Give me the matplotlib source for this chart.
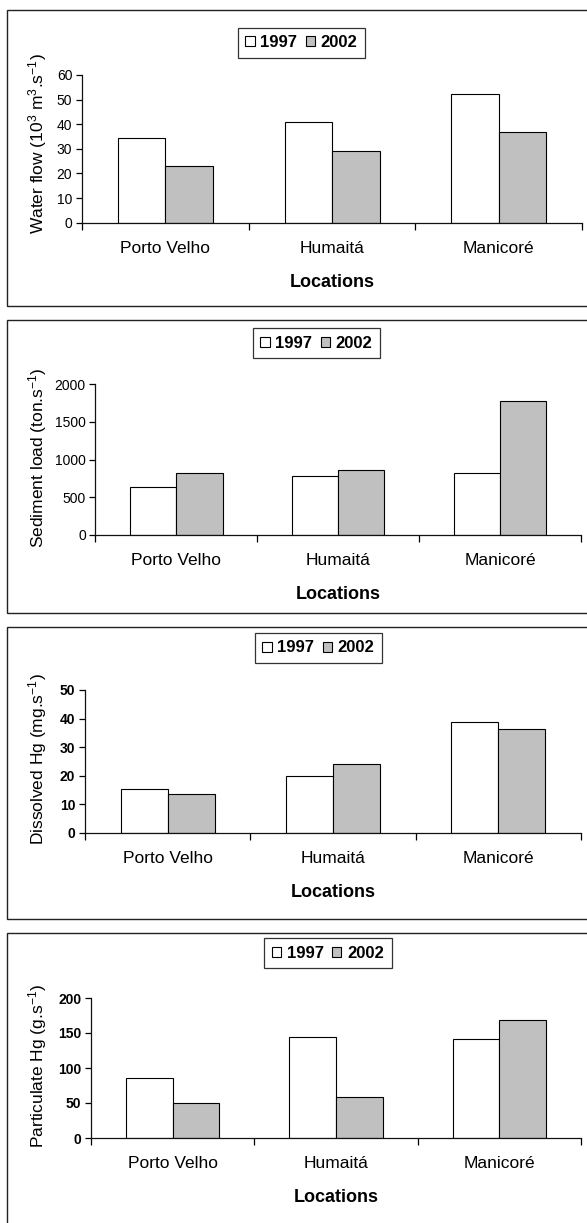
import numpy as np
import matplotlib
matplotlib.use("Agg")
import matplotlib.pyplot as plt
from matplotlib.patches import Rectangle, Patch

plt.rcParams['font.family'] = ['Liberation Sans', 'DejaVu Sans']
plt.rcParams['mathtext.fontset'] = 'custom'
plt.rcParams['mathtext.rm'] = 'Liberation Sans'
plt.rcParams['mathtext.it'] = 'Liberation Sans:italic'
plt.rcParams['mathtext.bf'] = 'Liberation Sans:bold'

# ---------------- data ----------------
locations = ['Porto Velho', 'Humaitá', 'Manicoré']
years = ['1997', '2002']

water_1997 = [34.3, 41.0, 52.1]
water_2002 = [23.1, 29.3, 37.0]

sediment_1997 = [630, 775, 815]
sediment_2002 = [815, 863, 1780]

dissolved_1997 = [15.5, 20.0, 38.9]
dissolved_2002 = [13.6, 24.3, 36.5]

particulate_1997 = [86.3, 144.5, 141.2]
particulate_2002 = [50.7, 58.8, 168.2]

ylabels = [r'Water flow (10$^{3}$ m$^{3}$.s$^{-1}$)',
           r'Sediment load (ton.s$^{-1}$)',
           r'Dissolved Hg (mg.s$^{-1}$)',
           r'Particulate Hg (g.s$^{-1}$)']
yticks_list = [[0, 10, 20, 30, 40, 50, 60],
               [0, 500, 1000, 1500, 2000],
               [0, 10, 20, 30, 40, 50],
               [0, 50, 100, 150, 200]]

# ---------------- layout (pixels) ----------------
W, H = 587, 1223
fig = plt.figure(figsize=(W / 100, H / 100), dpi=100)

panels = [
    # box_top, box_bottom, ax_left, ax_right, y0, ytop, legend_cx, legend_cy, ylabel_cy, bold_ticks
    dict(bt=10, bb=306, l=82, r=582, y0=222.7, yt=75, lcx=301.5, lcy=42.5, ylc=144, bold=False),
    dict(bt=320, bb=613, l=95.5, r=581, y0=535, yt=384, lcx=316.5, lcy=343, ylc=458, bold=False),
    dict(bt=627, bb=919, l=85, r=581, y0=833, yt=690, lcx=318.5, lcy=648, ylc=759, bold=True),
    dict(bt=933, bb=1240, l=91, r=581, y0=1138, yt=998, lcx=328, lcy=953, ylc=1066, bold=True),
]
series = [(water_1997, water_2002), (sediment_1997, sediment_2002),
          (dissolved_1997, dissolved_2002), (particulate_1997, particulate_2002)]

white = '#ffffff'
grey = '#c0c0c0'
bw = 0.285
x = np.arange(len(locations))

for p, (s97, s02), ylab, yt in zip(panels, series, ylabels, yticks_list):
    # panel frame
    fig.patches.append(Rectangle((7 / W, 1 - p['bb'] / H), (620 - 7) / W, (p['bb'] - p['bt']) / H,
                                 transform=fig.transFigure, fill=False,
                                 edgecolor='#222222', linewidth=1.0))
    ax = fig.add_axes([p['l'] / W, 1 - p['y0'] / H, (p['r'] - p['l']) / W, (p['y0'] - p['yt']) / H])
    ax.patch.set_alpha(0)
    ax.bar(x - bw / 2, s97, width=bw, color=white, edgecolor='black', linewidth=0.8, label=years[0])
    ax.bar(x + bw / 2, s02, width=bw, color=grey, edgecolor='black', linewidth=0.8, label=years[1])
    ax.set_xlim(-0.5, len(locations) - 0.5)
    ax.set_ylim(yt[0], yt[-1])
    ax.set_yticks(yt)
    ax.spines['top'].set_visible(False)
    ax.spines['right'].set_visible(False)
    for sp in ('left', 'bottom'):
        ax.spines[sp].set_linewidth(0.9)
        ax.spines[sp].set_color('#111111')
    ax.tick_params(axis='y', direction='out', length=4, width=0.9, pad=3, labelsize=10)
    for t in ax.get_yticklabels():
        t.set_fontweight('bold' if p['bold'] else 'normal')
    # x: boundaries as major ticks, category names as minor labels
    ax.set_xticks(np.arange(len(locations) + 1) - 0.5)
    ax.set_xticklabels([])
    ax.set_xticks(x, minor=True)
    ax.set_xticklabels(locations, minor=True)
    ax.tick_params(axis='x', which='major', direction='out', length=5, width=0.9)
    ax.tick_params(axis='x', which='minor', length=0, pad=13, labelsize=12.5)
    # labels
    ax.set_xlabel('Locations', fontsize=13, fontweight='bold')
    axh = p['y0'] - p['yt']
    loc_y = (p['y0'] - (p['y0'] + 59.5)) / axh
    ax.xaxis.set_label_coords(0.5, loc_y)
    ax.xaxis.label.set_va('center')
    ax.set_ylabel(ylab, fontsize=12.5)
    axw = p['r'] - p['l']
    ax.yaxis.set_label_coords((38 - p['l']) / axw, (p['y0'] - p['ylc']) / axh)
    ax.yaxis.label.set_va('center')
    # legend
    leg = ax.legend(loc='center', bbox_to_anchor=(p['lcx'] / W, 1 - p['lcy'] / H),
                    bbox_transform=fig.transFigure, ncol=2, frameon=True, fancybox=False,
                    prop=dict(weight='bold', size=12), handlelength=0.55, handleheight=0.55,
                    handletextpad=0.35, columnspacing=0.5, borderpad=0.45, borderaxespad=0)
    leg.get_frame().set_edgecolor('black')
    leg.get_frame().set_linewidth(0.9)

fig.savefig('out.png', dpi=100)
